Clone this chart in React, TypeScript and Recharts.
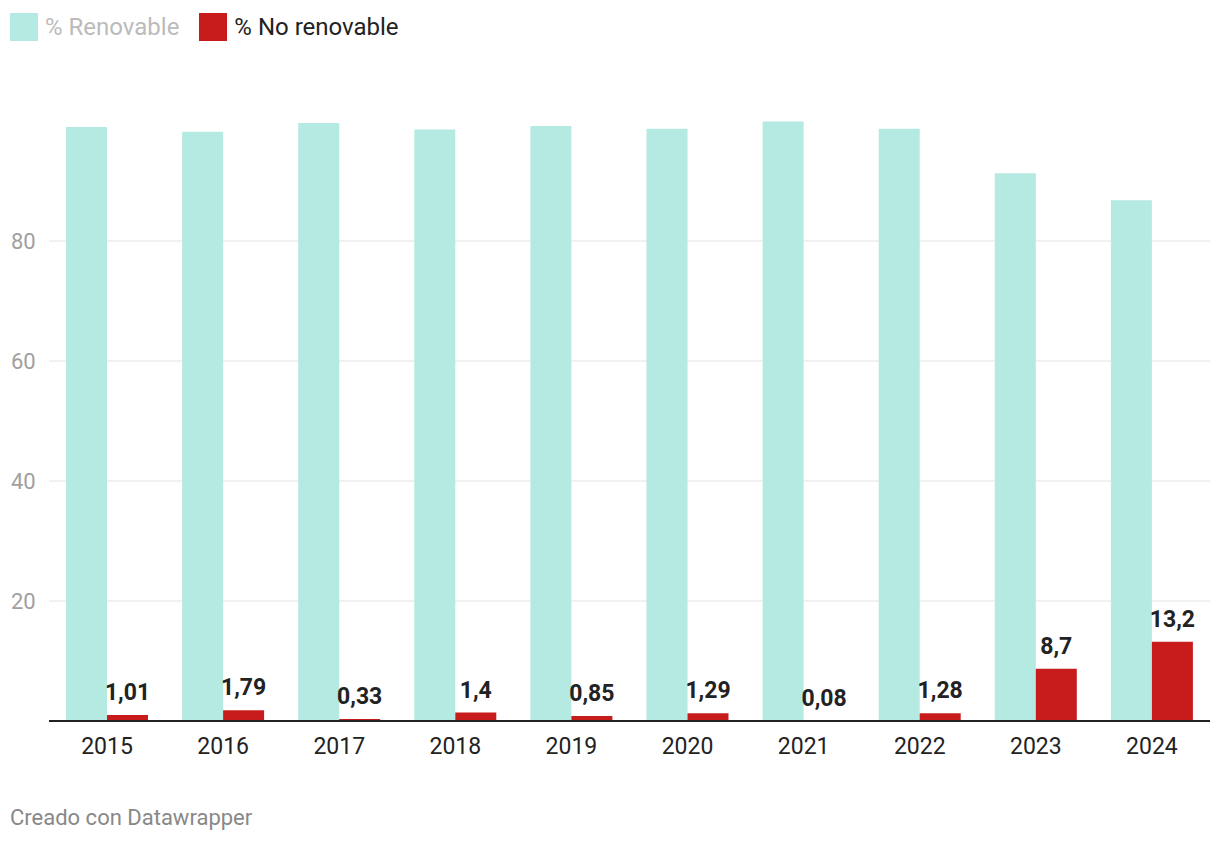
import React from "react";
import { BarChart, Bar, XAxis, YAxis, CartesianGrid, LabelList } from "recharts";

const years = ["2015", "2016", "2017", "2018", "2019", "2020", "2021", "2022", "2023", "2024"];
const renovable = [98.99, 98.21, 99.67, 98.6, 99.15, 98.71, 99.92, 98.72, 91.3, 86.8];
const noRenovable = [1.01, 1.79, 0.33, 1.4, 0.85, 1.29, 0.08, 1.28, 8.7, 13.2];
const yTicks = [20, 40, 60, 80];

const TEAL = "#b4eae2";
const RED = "#c81c1c";
const FONT = "Roboto, 'Noto Sans', sans-serif";

const data = years.map((year, i) => ({
  year,
  renovable: renovable[i],
  noRenovable: noRenovable[i],
}));

function YTick({ y, payload }: { y?: number; payload?: { value: number } }) {
  return (
    <text x={11} y={y} dy={8} textAnchor="start" fill="#a0a0a0" fontSize={22} fontFamily={FONT}>
      {payload?.value}
    </text>
  );
}

function XTick({ x, y, payload }: { x?: number; y?: number; payload?: { value: string } }) {
  return (
    <text x={x} y={y} dy={25} textAnchor="middle" fill="#222" fontSize={23} fontFamily={FONT}>
      {payload?.value}
    </text>
  );
}

function LegendItem({ color, label, textColor }: { color: string; label: string; textColor: string }) {
  return (
    <div style={{ display: "flex", alignItems: "center", marginRight: 20 }}>
      <div style={{ width: 28, height: 28, background: color, marginRight: 7 }} />
      <span style={{ color: textColor, fontSize: 24, fontFamily: FONT, lineHeight: "28px" }}>{label}</span>
    </div>
  );
}

export default function App() {
  return (
    <div style={{ position: "absolute", left: 0, top: 0, width: 1220, height: 844, background: "#fff" }}>
      <div style={{ position: "absolute", left: 10, top: 13, display: "flex" }}>
        <LegendItem color={TEAL} label="% Renovable" textColor="#bbbbbb" />
        <LegendItem color={RED} label="% No renovable" textColor="#222" />
      </div>
      <div style={{ position: "absolute", left: 0, top: 0 }}>
        <BarChart
          width={1220}
          height={780}
          data={data}
          margin={{ top: 121, right: 10, left: 0, bottom: 19 }}
          barGap={0}
        >
          <CartesianGrid vertical={false} stroke="#e3e3e3" horizontalValues={yTicks} />
          <YAxis
            domain={[0, 100]}
            ticks={yTicks}
            width={49}
            tickLine={false}
            axisLine={false}
            tick={<YTick />}
          />
          <XAxis
            dataKey="year"
            height={40}
            tickLine={false}
            axisLine={{ stroke: "#222", strokeWidth: 2 }}
            tick={<XTick />}
          />
          <Bar dataKey="renovable" fill={TEAL} barSize={41} isAnimationActive={false} />
          <Bar dataKey="noRenovable" fill={RED} barSize={41} isAnimationActive={false}>
            <LabelList
              dataKey="noRenovable"
              position="top"
              offset={15}
              formatter={(v: number) => String(v).replace(".", ",")}
              fill="#222"
              fontSize={23}
              fontWeight={700}
              fontFamily={FONT}
            />
          </Bar>
        </BarChart>
      </div>
      <div style={{ position: "absolute", left: 10, top: 805, color: "#888", fontSize: 22, fontFamily: FONT }}>
        Creado con Datawrapper
      </div>
    </div>
  );
}
